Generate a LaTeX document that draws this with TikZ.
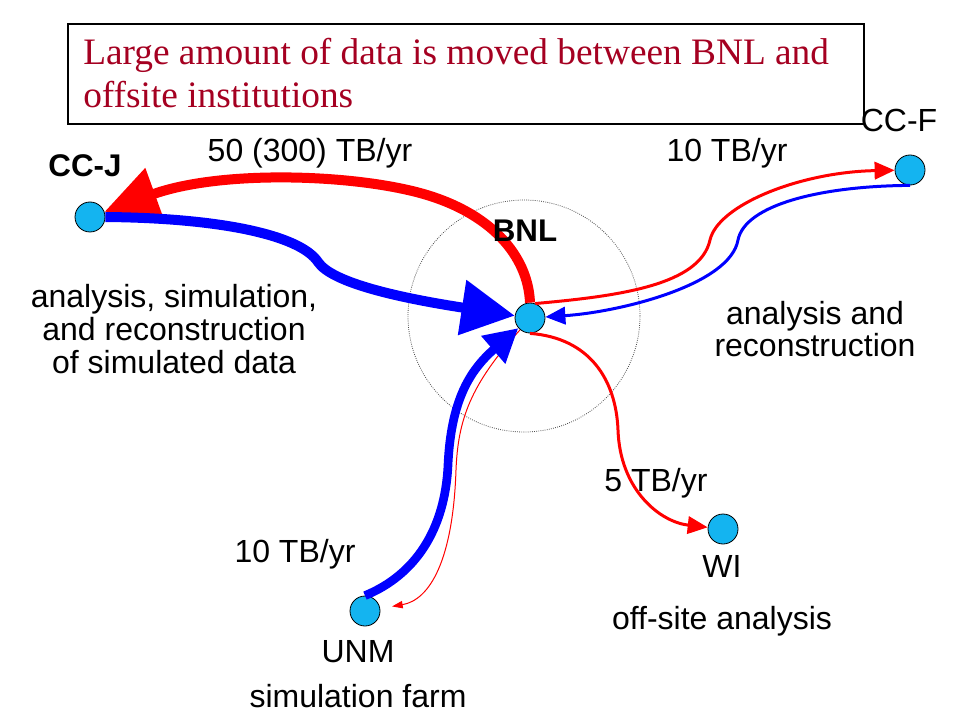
\documentclass[tikz,border=0pt]{standalone}
\usepackage{fontspec}
\setmainfont{Liberation Serif}
\setsansfont{Liberation Sans}
\usetikzlibrary{arrows.meta}
\definecolor{nodecyan}{RGB}{20,180,240}
\definecolor{titlered}{RGB}{165,0,33}
\definecolor{flowred}{RGB}{255,0,0}
\definecolor{flowblue}{RGB}{0,0,255}
\begin{document}
\begin{tikzpicture}[x=0.75pt,y=-0.75pt,
  site/.style={circle,draw=black,line width=0.6pt,fill=nodecyan,minimum size=22.5pt,inner sep=0pt},
  lbl/.style={font=\sffamily\fontsize{24}{24.5}\selectfont,inner sep=0pt,align=center},
  blbl/.style={font=\sffamily\bfseries\fontsize{23.5}{26}\selectfont,inner sep=0pt},
  ttl/.style={font=\rmfamily\fontsize{28}{33}\selectfont,text=titlered,inner sep=0pt,anchor=base west},
  bigred/.style={draw=flowred,line width=7.5pt,-{Triangle[length=40pt,width=39pt]}},
  bigblue/.style={draw=flowblue,line width=7.5pt,-{Triangle[length=40pt,width=40pt]}},
  midblue/.style={draw=flowblue,line width=6.5pt,-{Triangle[length=25pt,width=26pt]}},
  thinred/.style={draw=flowred,line width=2.25pt,-{Triangle[length=15pt,width=13pt]}},
  thinblue/.style={draw=flowblue,line width=2.25pt,-{Triangle[length=15pt,width=13pt]}},
  hairred/.style={draw=flowred,line width=0.75pt,-{Triangle[length=8pt,width=5.5pt]}},
  zone/.style={draw=black!70,line width=0.6pt,dash pattern=on 0.6pt off 1pt}
]
\fill[white] (0,0) rectangle (960,720);
\useasboundingbox (0,0) rectangle (960,720);

% title box
\draw[line width=0.8pt] (68,24) rectangle (864,124);
\node[ttl] (title1) at (83,65) {Large amount of data is moved between BNL and};
\node[ttl] (title2) at (83,108) {offsite institutions};

% BNL zone
\draw[zone] (524,316) circle[radius=87pt];

% sites
\node[site] (ccj) at (90,217) {};
\node[site] (bnl) at (530,318) {};
\node[site] (ccf) at (910,170) {};
\node[site] (wi) at (723,529) {};
\node[site] (unm) at (365,611) {};

% flows
\draw[bigred] (bnl.north) .. controls (528,255) and (490,212) .. (420,193)
   .. controls (350,174) and (220,170) .. (ccj);
\draw[bigblue] (ccj.east) .. controls (220,218) and (300,235) .. (318,262)
   .. controls (332,283) and (400,298) .. (bnl);
\draw[thinred] (bnl.70) .. controls (620,296) and (700,285) .. (710,240)
   .. controls (718,205) and (800,172) .. (ccf);
\draw[thinblue] (ccf.south) .. controls (820,186) and (745,205) .. (738,240)
   .. controls (730,285) and (620,312) .. (bnl);
\draw[thinred] (bnl.south) .. controls (590,338) and (616,380) .. (618,430)
   .. controls (620,490) and (660,522) .. (wi);
\draw[hairred,shorten >=9pt] (bnl.230) .. controls (470,385) and (458,420) .. (456,470)
   .. controls (453,560) and (430,600) .. (unm);
\draw[midblue] (unm.north) .. controls (415,575) and (445,530) .. (448,465)
   .. controls (451,400) and (470,370) .. (bnl);

% labels
\node[blbl,anchor=base] (ccjl) at (85,177) {CC-J};
\node[blbl,anchor=base] (bnll) at (525,242) {BNL};
\node[lbl,anchor=base] (ccfl) at (899,132) {CC-F};
\node[lbl,anchor=base] (r1) at (310,162) {50 (300) TB/yr};
\node[lbl,anchor=base] (r2) at (727,162) {10 TB/yr};
\node[lbl] (ccjtask) at (174,329) {analysis, simulation,\\and reconstruction\\of simulated data};
\node[lbl] (ccftask) at (815,329) {analysis and\\reconstruction};
\node[lbl,anchor=base] (r3) at (656,491) {5 TB/yr};
\node[lbl,anchor=base] (r4) at (295,562) {10 TB/yr};
\node[lbl,anchor=base] (wil) at (722,577) {WI};
\node[lbl,anchor=base] (witask) at (722,629) {off-site analysis};
\node[lbl,anchor=base] (unml) at (358,662) {UNM};
\node[lbl,anchor=base] (unmtask) at (358,707) {simulation farm};
\end{tikzpicture}
\end{document}
